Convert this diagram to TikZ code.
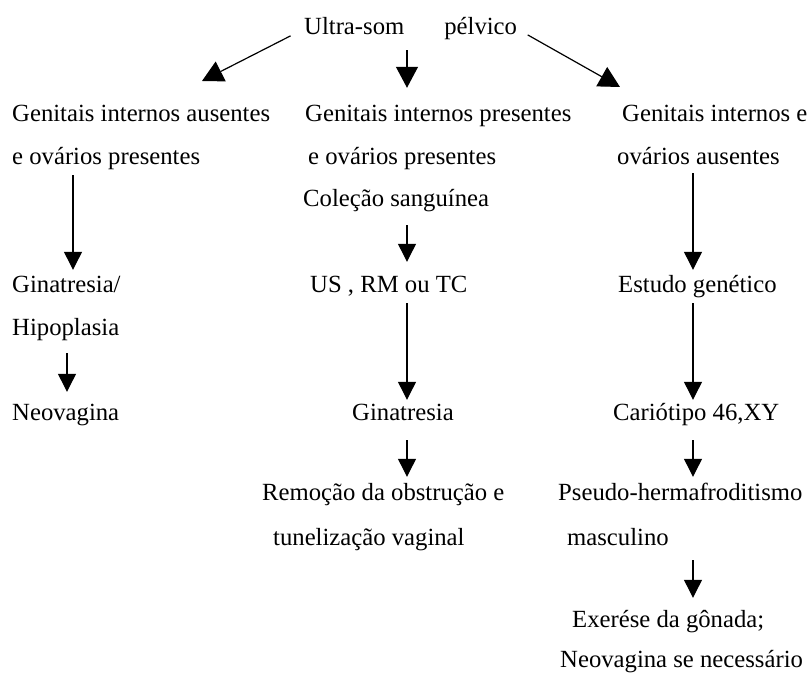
\documentclass[tikz,border=0pt]{standalone}
\usepackage{fontspec}
\setmainfont{Liberation Serif}
\usetikzlibrary{arrows.meta}

\begin{document}
\begin{tikzpicture}[x=1pt, y=-1pt,
        txt/.style={anchor=base west, inner sep=0pt, text height=17pt, text depth=5pt,
            font=\fontsize{24.7}{30}\selectfont},
        arr/.style={-{Triangle[width=18pt,length=18pt]}, line width=1.2pt},
        bigarr/.style={-{Triangle[width=22pt,length=21pt]}, line width=1.2pt}]
    \useasboundingbox (0,0) rectangle (812,682);
    % column positions of the vertical arrows
    \coordinate (xA) at (73,0);
    \coordinate (xAs) at (67,0);
    \coordinate (xB) at (407,0);
    \coordinate (xC) at (693,0);
    \coordinate (hL) at (202,81);
    \coordinate (hR) at (620,87);

    \node[txt] (top) at (304,35) {Ultra-som\hspace{40pt}pélvico};

    % left branch
    \node[txt] (A1) at (12,122) {Genitais internos ausentes};
    \node[txt] (A2) at (12,165) {e ovários presentes};
    \node[txt] (A3) at (12,292) {Ginatresia/};
    \node[txt] (A4) at (12,335) {Hipoplasia};
    \node[txt] (A5) at (12,420) {Neovagina};

    % middle branch
    \node[txt] (B1) at (305,122) {Genitais internos presentes};
    \node[txt] (B2) at (308,165) {e ovários presentes};
    \node[txt] (B3) at (303,207) {Coleção sanguínea};
    \node[txt] (B4) at (310,292) {US , RM ou TC};
    \node[txt] (B5) at (352,420) {Ginatresia};
    \node[txt] (B6) at (262,500) {Remoção da obstrução e};
    \node[txt] (B7) at (273,545) {tunelização vaginal};

    % right branch
    \node[txt] (C1) at (622,122) {Genitais internos e};
    \node[txt] (C2) at (617,165) {ovários ausentes};
    \node[txt] (C3) at (618,292) {Estudo genético};
    \node[txt] (C4) at (613,420) {Cariótipo 46,XY};
    \node[txt] (C5) at (558,500) {Pseudo-hermafroditismo};
    \node[txt] (C6) at (567,545) {masculino};
    \node[txt] (C7) at (572,627) {Exerése da gônada;};
    \node[txt] (C8) at (560,667) {Neovagina se necessário};

    \draw[bigarr, shorten <=15pt] (top.west) -- (hL);
    \draw[bigarr, shorten <=10pt, shorten >=17pt] (top.south -| xB) -- (B1.north -| xB);
    \draw[bigarr, shorten <=12pt] (top.east) -- (hR);

    \draw[arr, shorten <=5pt, shorten >=5pt] (A2.south -| xA) -- (A3.north -| xA);
    \draw[arr, shorten <=13pt, shorten >=11pt] (A4.south -| xAs) -- (A5.north -| xAs);

    \draw[arr, shorten <=13pt, shorten >=13pt] (B3.south -| xB) -- (B4.north -| xB);
    \draw[arr, shorten <=6pt, shorten >=3pt] (B4.south -| xB) -- (B5.north -| xB);
    \draw[arr, shorten <=15pt, shorten >=6pt] (B5.south -| xB) -- (B6.north -| xB);

    \draw[arr, shorten <=3pt, shorten >=5pt] (C2.south -| xC) -- (C3.north -| xC);
    \draw[arr, shorten <=6pt, shorten >=3pt] (C3.south -| xC) -- (C4.north -| xC);
    \draw[arr, shorten <=15pt, shorten >=6pt] (C4.south -| xC) -- (C5.north -| xC);
    \draw[arr, shorten <=10pt, shorten >=12pt] (C6.south -| xC) -- (C7.north -| xC);
\end{tikzpicture}
\end{document}
